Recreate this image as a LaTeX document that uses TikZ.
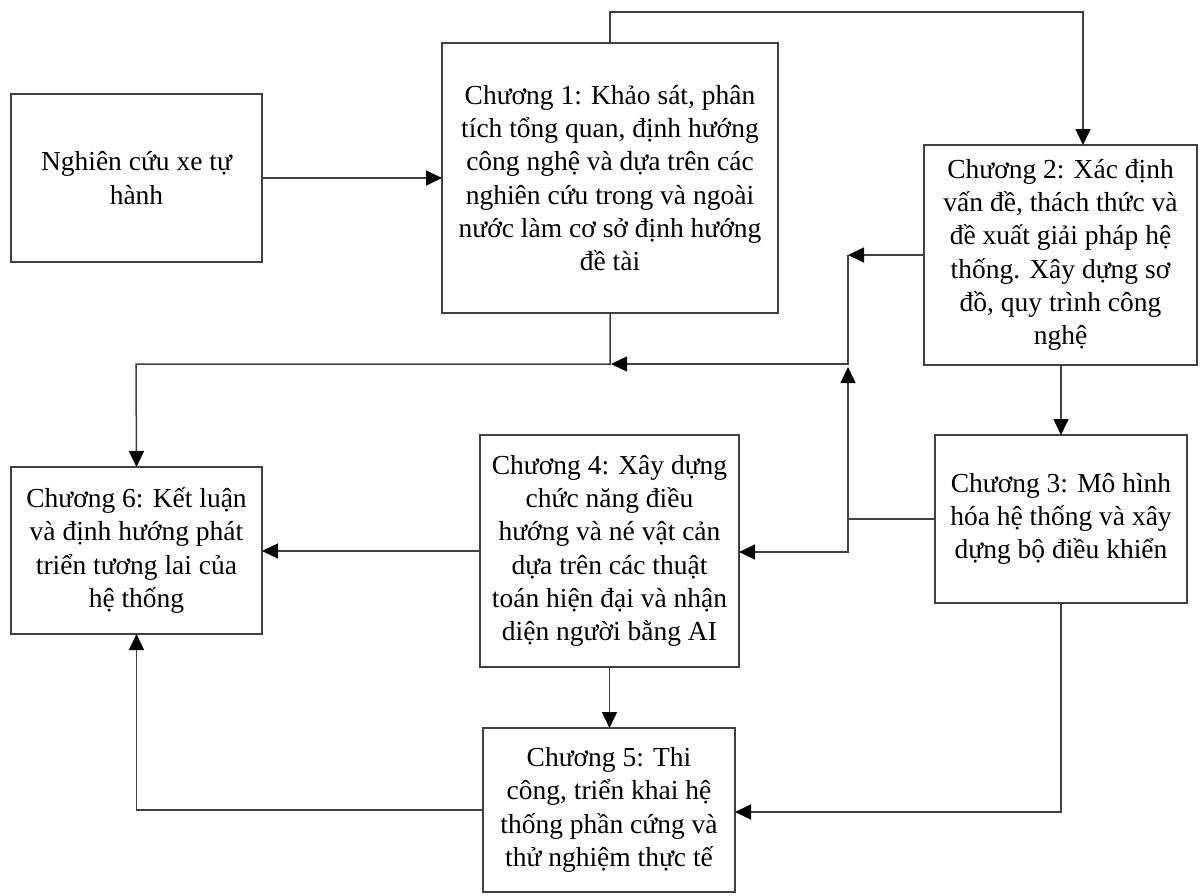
\documentclass[tikz,border=0pt]{standalone}
\usepackage{fontspec}
\setmainfont{Liberation Serif}
\usetikzlibrary{arrows.meta,calc}
\begin{document}
\begin{tikzpicture}[x=1pt,y=-1pt,
  box/.style={draw=black!75,line width=1.5pt,align=center,inner sep=0pt,outer sep=0pt,
    font=\fontsize{27.5}{33.3}\selectfont},
  link/.style={draw=black!75,line width=1.5pt},
  arr/.style={link,-{Triangle[length=16pt,width=15pt,color=black]}}]
\useasboundingbox (0,0) rectangle (1200,895);

% chapter boxes
\node[box,minimum width=251pt,minimum height=168pt] (n0) at (136.5,178)
  {Nghiên cứu xe tự\\hành};
\node[box,minimum width=336pt,minimum height=270pt] (c1) at (610,178)
  {Chương 1: Khảo sát, phân\\tích tổng quan, định hướng\\công nghệ và dựa trên các\\nghiên cứu trong và ngoài\\nước làm cơ sở định hướng\\đề tài};
\node[box,minimum width=273pt,minimum height=220pt] (c2) at (1060.5,255)
  {Chương 2: Xác định\\vấn đề, thách thức và\\đề xuất giải pháp hệ\\thống. Xây dựng sơ\\đồ, quy trình công\\nghệ};
\node[box,minimum width=252pt,minimum height=168pt] (c3) at (1061,519)
  {Chương 3: Mô hình\\hóa hệ thống và xây\\dựng bộ điều khiển};
\node[box,minimum width=259pt,minimum height=232pt] (c4) at (609.5,551)
  {Chương 4: Xây dựng\\chức năng điều\\hướng và né vật cản\\dựa trên các thuật\\toán hiện đại và nhận\\diện người bằng AI};
\node[box,minimum width=251pt,minimum height=167pt] (c6) at (136.5,550.5)
  {Chương 6: Kết luận\\và định hướng phát\\triển tương lai của\\hệ thống};
\node[box,minimum width=252pt,minimum height=164pt] (c5) at (609,810)
  {Chương 5: Thi\\công, triển khai hệ\\thống phần cứng và\\thử nghiệm thực tế};

% routing points
\coordinate (top) at (1083,12);
\coordinate (k2) at (848,255);
\coordinate (m1) at (611,364);
\coordinate (mid) at (848,519);
\coordinate (up) at (848,367);
\coordinate (low) at (848,552);
\coordinate (left1) at (136,364);
\coordinate (bot) at (1061,812);

% connectors
\draw[arr] (n0.east) -- (c1.west);
\draw[arr] (c1.north) |- (top) -- (top |- c2.north);
\draw[arr] (c2.west) -- (k2);
\draw[arr] (k2) |- (m1);
\draw[arr] (c1.south) |- (left1) -- (c6.north);
\draw[arr] (c2.south -| c3.north) -- (c3.north);
\draw[link] (c3.west) -- (mid);
\draw[arr] (mid) -- (up);
\draw[arr] (mid) |- (low -| c4.east);
\draw[arr] (c4.west) -- (c4.west -| c6.east);
\draw[arr] (c4.south) -- (c4.south |- c5.north);
\draw[arr] (c3.south) |- (bot -| c5.east);
\draw[arr] (c5.west) -| (c6.south);
\end{tikzpicture}
\end{document}
